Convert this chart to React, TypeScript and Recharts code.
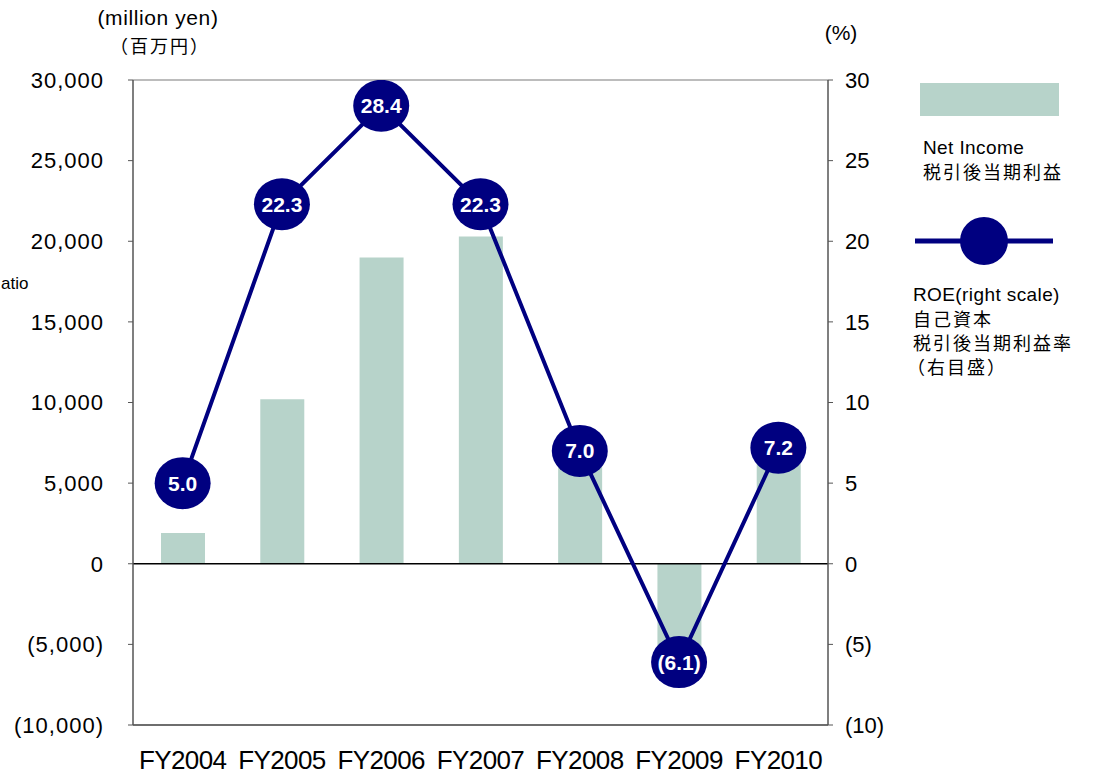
import React from 'react';
import { ComposedChart, Bar, Line, XAxis, YAxis, CartesianGrid, ReferenceLine } from 'recharts';

const categories = ['FY2004', 'FY2005', 'FY2006', 'FY2007', 'FY2008', 'FY2009', 'FY2010'];
const netIncome = [1900, 10200, 19000, 20300, 6300, -5500, 6800];
const roe = [5.0, 22.3, 28.4, 22.3, 7.0, -6.1, 7.2];
const leftTicks = [-10000, -5000, 0, 5000, 10000, 15000, 20000, 25000, 30000];
const rightTicks = [-10, -5, 0, 5, 10, 15, 20, 25, 30];

const data = categories.map((c, i) => ({ name: c, netIncome: netIncome[i], roe: roe[i] }));

const FONT = '"Liberation Sans", Arial, "Noto Sans CJK JP", sans-serif';
const BAR_COLOR = '#b7d3ca';
const NAVY = '#000080';

const fmtLeft = (v: number) => {
  const s = Math.abs(v).toLocaleString('en-US');
  return v < 0 ? `(${s})` : s;
};
const fmtRight = (v: number) => (v < 0 ? `(${Math.abs(v)})` : `${v}`);
const fmtRoe = (v: number) => (v < 0 ? `(${Math.abs(v).toFixed(1)})` : v.toFixed(1));

const RoeDot = (props: any) => {
  const { cx, cy, payload } = props;
  if (cx == null || cy == null) return null;
  return (
    <g>
      <ellipse cx={cx} cy={cy} rx={28} ry={26} fill={NAVY} />
      <text x={cx} y={cy} dy="0.36em" textAnchor="middle" fill="#fff" fontSize={21} fontWeight="bold" fontFamily={FONT}>
        {fmtRoe(payload.roe)}
      </text>
    </g>
  );
};

export default function App() {
  return (
    <div style={{ position: 'absolute', left: 0, top: 0, width: 1093, height: 777, background: '#fff', fontFamily: FONT }}>
      <ComposedChart width={1093} height={777} data={data} margin={{ top: 80, right: 205, bottom: 0, left: 0 }}>
        <CartesianGrid vertical={false} stroke="#a6a6a6" strokeWidth={1.3} />
        <XAxis
          dataKey="name"
          xAxisId={0}
          height={52}
          tickLine={false}
          axisLine={{ stroke: '#555', strokeWidth: 1.5 }}
          tick={{ fontSize: 26, fill: '#000', fontFamily: FONT, letterSpacing: -0.6 } as any}
          tickMargin={20}
          interval={0}
        />
        <YAxis
          yAxisId="left"
          domain={[-10000, 30000]}
          ticks={leftTicks}
          width={133}
          tickFormatter={fmtLeft}
          tick={{ fontSize: 22, fill: '#000', fontFamily: FONT, letterSpacing: 1 } as any}
          tickSize={5}
          tickMargin={24}
          tickLine={{ stroke: '#555' }}
          axisLine={{ stroke: '#555', strokeWidth: 1.5 }}
          interval={0}
          allowDataOverflow
        />
        <YAxis
          yAxisId="right"
          orientation="right"
          domain={[-10, 30]}
          ticks={rightTicks}
          width={60}
          tickFormatter={fmtRight}
          tick={{ fontSize: 22, fill: '#000', fontFamily: FONT, textAnchor: 'start' } as any}
          tickSize={5}
          tickMargin={12}
          tickLine={{ stroke: '#555' }}
          axisLine={{ stroke: '#555', strokeWidth: 1.5 }}
          interval={0}
          allowDataOverflow
        />
        <Bar yAxisId="left" dataKey="netIncome" fill={BAR_COLOR} barSize={44} isAnimationActive={false} />
        <ReferenceLine yAxisId="left" y={0} stroke="#000" strokeWidth={1.5} />
        <Line
          yAxisId="right"
          dataKey="roe"
          stroke={NAVY}
          strokeWidth={4}
          dot={<RoeDot />}
          activeDot={false}
          isAnimationActive={false}
        />
      </ComposedChart>
      <svg width={1093} height={777} style={{ position: 'absolute', left: 0, top: 0, pointerEvents: 'none' }}>
        <text x={158} y={25} textAnchor="middle" fontSize={21} letterSpacing={0.6} fontFamily={FONT} fill="#000">(million yen)</text>
        <text x={160} y={53} textAnchor="middle" fontSize={18} letterSpacing={2} fontFamily={FONT} fill="#000">（百万円）</text>
        <text x={841} y={40} textAnchor="middle" fontSize={21} fontFamily={FONT} fill="#000">(%)</text>
        <text x={1} y={289} textAnchor="start" fontSize={17} fontFamily={FONT} fill="#000">atio</text>
        {/* legend */}
        <rect x={920} y={83} width={139} height={33} fill={BAR_COLOR} />
        <text x={923} y={154} fontSize={19} letterSpacing={0.4} fontFamily={FONT} fill="#000">Net Income</text>
        <text x={923} y={179} fontSize={18} letterSpacing={2} fontFamily={FONT} fill="#000">税引後当期利益</text>
        <line x1={915} y1={241} x2={1053} y2={241} stroke={NAVY} strokeWidth={5} />
        <circle cx={984} cy={241} r={24} fill={NAVY} />
        <text x={913} y={301} fontSize={19} letterSpacing={0.4} fontFamily={FONT} fill="#000">ROE(right scale)</text>
        <text x={913} y={326} fontSize={18} letterSpacing={2} fontFamily={FONT} fill="#000">自己資本</text>
        <text x={913} y={350} fontSize={18} letterSpacing={2} fontFamily={FONT} fill="#000">税引後当期利益率</text>
        <text x={907} y={374} fontSize={18} letterSpacing={2} fontFamily={FONT} fill="#000">（右目盛）</text>
      </svg>
    </div>
  );
}
